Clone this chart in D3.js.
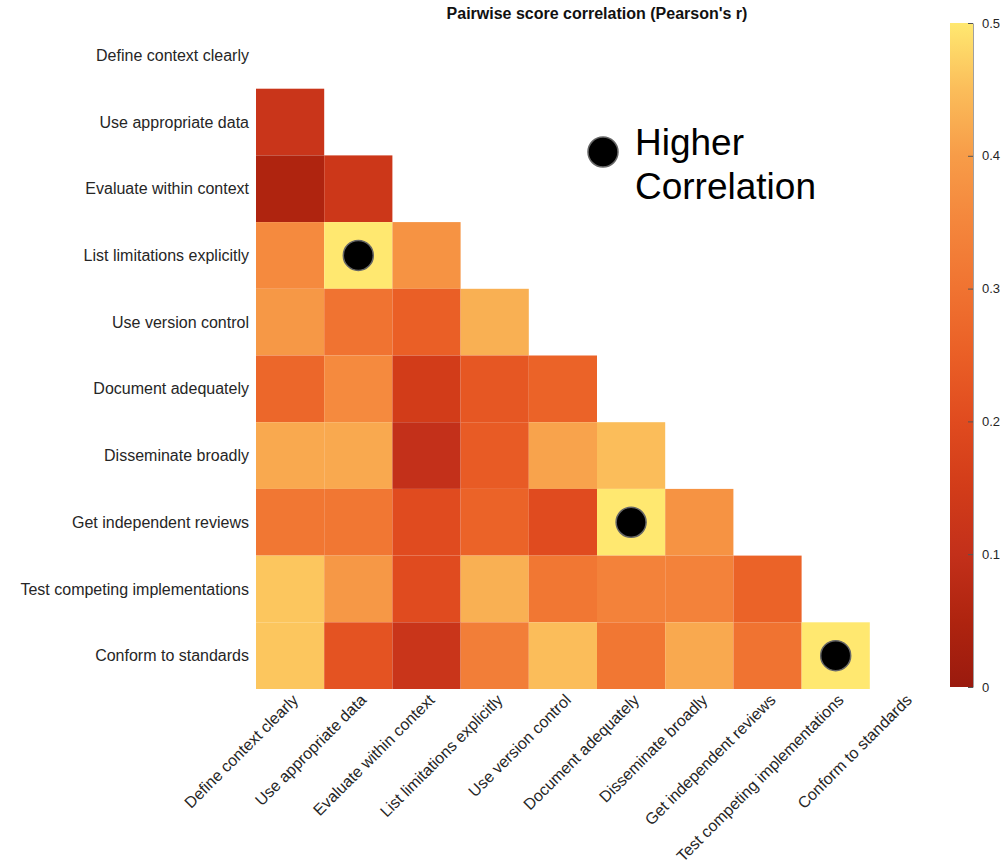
<!DOCTYPE html>
<html>
<head>
<meta charset="utf-8">
<script src="https://cdn.jsdelivr.net/npm/d3@7"></script>
<style>
  html, body { margin: 0; padding: 0; background: #fff; }
  svg { display: block; font-family: "Liberation Sans", Arial, Helvetica, sans-serif; }
</style>
</head>
<body>
<svg id="chart" width="1004" height="867"></svg>
<script>
// Practice names (rows and columns of the correlation matrix)
const practices = [
  "Define context clearly",
  "Use appropriate data",
  "Evaluate within context",
  "List limitations explicitly",
  "Use version control",
  "Document adequately",
  "Disseminate broadly",
  "Get independent reviews",
  "Test competing implementations",
  "Conform to standards"
];

// Lower-triangle Pearson's r values; row i holds correlations with practices 0..i-1
const corrRows = [
  [],
  [0.12],
  [0.05, 0.13],
  [0.36, 0.50, 0.38],
  [0.39, 0.30, 0.25, 0.43],
  [0.27, 0.36, 0.15, 0.23, 0.26],
  [0.42, 0.42, 0.10, 0.24, 0.41, 0.45],
  [0.31, 0.31, 0.20, 0.26, 0.20, 0.50, 0.38],
  [0.46, 0.39, 0.20, 0.43, 0.31, 0.34, 0.34, 0.26],
  [0.46, 0.22, 0.12, 0.33, 0.45, 0.31, 0.42, 0.30, 0.50]
];

// Colour bar ticks and colour ramp stops
const colorTicks = [0, 0.1, 0.2, 0.3, 0.4, 0.5];
const rampStops = [0, 0.05, 0.10, 0.15, 0.20, 0.25, 0.30, 0.35, 0.40, 0.45, 0.50];
const rampColors = ["#9a1a0e", "#af240f", "#c3301a", "#d23c19", "#e04b1f", "#ea5f26",
                    "#f07331", "#f4863c", "#f79c48", "#fbbd5a", "#ffe870"];

// Cells at or above this value get a marker dot
const highlightThreshold = 0.495;

const titleText = "Pairwise score correlation (Pearson's r)";
const legendLines = ["Higher", "Correlation"];

const svg = d3.select("#chart");
const textColor = "#262626";

const grid = { left: 256, top: 22, right: 938, bottom: 689 };

const x = d3.scaleBand().domain(practices).range([grid.left, grid.right]);
const y = d3.scaleBand().domain(practices).range([grid.top, grid.bottom]);
const color = d3.scaleLinear().domain(rampStops).range(rampColors).clamp(true);

const cells = [];
corrRows.forEach((row, i) => {
  row.forEach((v, j) => cells.push({ row: practices[i], col: practices[j], value: v }));
});

// Heatmap cells
svg.append("g")
  .selectAll("rect")
  .data(cells)
  .join("rect")
  .attr("x", d => x(d.col))
  .attr("y", d => y(d.row))
  .attr("width", x.bandwidth())
  .attr("height", y.bandwidth())
  .attr("fill", d => color(d.value));

// Marker dots on the strongest correlations
svg.append("g")
  .selectAll("circle")
  .data(cells.filter(d => d.value >= highlightThreshold))
  .join("circle")
  .attr("cx", d => x(d.col) + x.bandwidth() / 2)
  .attr("cy", d => y(d.row) + y.bandwidth() / 2)
  .attr("r", 15)
  .attr("fill", "#000")
  .attr("stroke", "#666")
  .attr("stroke-width", 1.5);

// Row labels
svg.append("g")
  .selectAll("text")
  .data(practices)
  .join("text")
  .attr("x", grid.left - 7)
  .attr("y", d => y(d) + y.bandwidth() / 2)
  .attr("dy", "0.35em")
  .attr("text-anchor", "end")
  .attr("font-size", 16)
  .attr("fill", textColor)
  .text(d => d);

// Column labels, rotated
svg.append("g")
  .selectAll("text")
  .data(practices)
  .join("text")
  .attr("transform", d => `translate(${x(d) + x.bandwidth() / 2 + 1},${grid.bottom + 4}) rotate(-45)`)
  .attr("dy", "0.71em")
  .attr("text-anchor", "end")
  .attr("font-size", 16)
  .attr("fill", textColor)
  .text(d => d);

// Title
svg.append("text")
  .attr("x", 597)
  .attr("y", 19)
  .attr("text-anchor", "middle")
  .attr("font-size", 16)
  .attr("font-weight", "bold")
  .attr("fill", "#111")
  .text(titleText);

// Legend: dot with label
svg.append("circle")
  .attr("cx", 603)
  .attr("cy", 152)
  .attr("r", 15)
  .attr("fill", "#000")
  .attr("stroke", "#666")
  .attr("stroke-width", 1.5);
svg.append("g")
  .selectAll("text")
  .data(legendLines)
  .join("text")
  .attr("x", 635)
  .attr("y", (d, i) => 155 + i * 44)
  .attr("font-size", 37)
  .attr("fill", "#000")
  .text(d => d);

// Colour bar
const cb = { x: 950, width: 23, top: 23, bottom: 687 };
const cbScale = d3.scaleLinear().domain([0, 0.5]).range([cb.bottom, cb.top]);
const defs = svg.append("defs");
const grad = defs.append("linearGradient")
  .attr("id", "cbGrad")
  .attr("x1", 0).attr("y1", 1).attr("x2", 0).attr("y2", 0);
grad.selectAll("stop")
  .data(rampStops)
  .join("stop")
  .attr("offset", d => d / 0.5)
  .attr("stop-color", d => color(d));
svg.append("rect")
  .attr("x", cb.x)
  .attr("y", cb.top)
  .attr("width", cb.width)
  .attr("height", cb.bottom - cb.top)
  .attr("fill", "url(#cbGrad)");

const cbAxis = d3.axisRight(cbScale)
  .tickValues(colorTicks)
  .tickFormat(d3.format("~g"))
  .tickSizeInner(-5)
  .tickSizeOuter(0)
  .tickPadding(9);
const cbG = svg.append("g")
  .attr("transform", `translate(${cb.x + cb.width},0)`)
  .call(cbAxis);
cbG.select(".domain").attr("stroke", "#888").attr("stroke-width", 0.8);
cbG.selectAll(".tick line").attr("stroke", "#555");
cbG.selectAll(".tick text")
  .attr("font-size", 13)
  .attr("font-family", "Liberation Sans, Arial, sans-serif")
  .attr("fill", textColor);
</script>
</body>
</html>
